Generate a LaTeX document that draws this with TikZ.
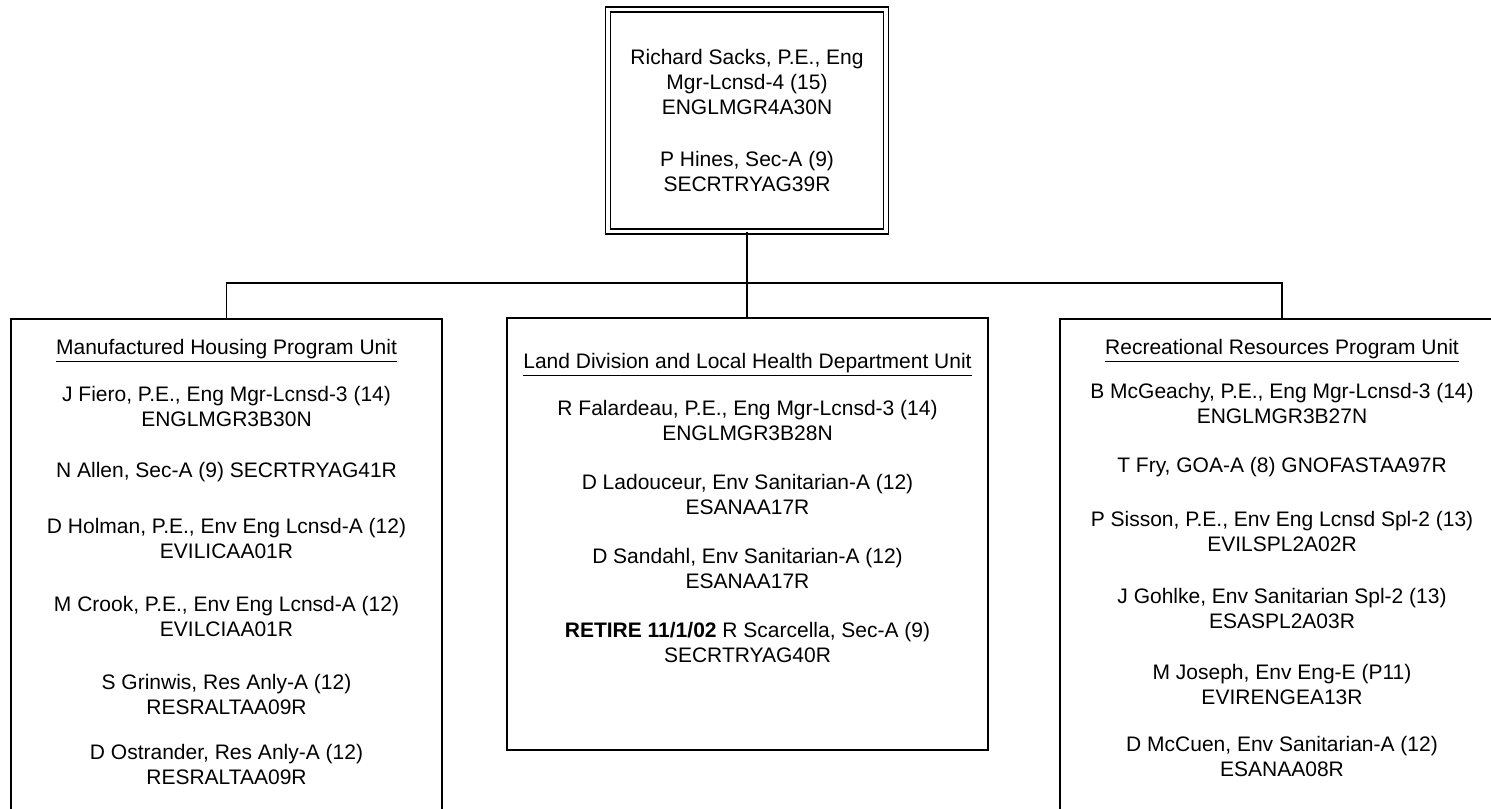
\documentclass[tikz,border=0pt]{standalone}
\usepackage{fontspec}
\setmainfont{Liberation Sans}
\usetikzlibrary{positioning}

\begin{document}
\begin{tikzpicture}[x=0.5pt, y=-0.5pt,
  mgrbox/.style={draw, double, double distance=1.9pt, line width=0.6pt, minimum width=139pt, minimum height=111pt, inner sep=0pt},
  unitbox/.style={draw, line width=0.7pt, inner sep=0pt, outer sep=0pt},
  entry/.style={align=center, inner sep=0pt, font=\fontsize{10.5}{12.5}\selectfont},
  link/.style={line width=0.7pt}
]
\useasboundingbox (0,0) rectangle (1491,808);
\clip (0,0) rectangle (1491,808);

% boxes
\node (top) [mgrbox] at (747,120.5) {};
\node (mh) [unitbox, minimum width=215.5pt, minimum height=260.5pt] at (226.5,579.5) {};
\node (ld) [unitbox, minimum width=240.5pt, minimum height=216pt] at (747.5,534) {};
\node (rr) [unitbox, minimum width=222pt, minimum height=260.5pt] at (1282,579.5) {};

% connectors
\coordinate (bus) at (747,283);
\draw[link] (top.south) -- (top.south |- ld.north);
\draw[link] (mh.north) |- (bus) -| (rr.north);

% manager
\node (sacks) [entry] at (747,81.5) {Richard Sacks, P.E., Eng\\Mgr-Lcnsd-4 (15)\\ENGLMGR4A30N};
\node (hines) [entry] at (747,171.5) {P Hines, Sec-A (9)\\SECRTRYAG39R};

% manufactured housing
\node (mhhead) [entry] at (226.5,351) {\underline{Manufactured Housing Program Unit}};
\node (fiero) [entry] at (226.5,406.5) {J Fiero, P.E., Eng Mgr-Lcnsd-3 (14)\\ENGLMGR3B30N};
\node (allen) [entry] at (226.5,472) {N Allen, Sec-A (9) SECRTRYAG41R};
\node (holman) [entry] at (226.5,538) {D Holman, P.E., Env Eng Lcnsd-A (12)\\EVILICAA01R};
\node (crook) [entry] at (226.5,616.5) {M Crook, P.E., Env Eng Lcnsd-A (12)\\EVILCIAA01R};
\node (grinwis) [entry] at (226.5,694.5) {S Grinwis, Res Anly-A (12)\\RESRALTAA09R};
\node (ostrander) [entry] at (226.5,764.5) {D Ostrander, Res Anly-A (12)\\RESRALTAA09R};

% land division
\node (ldhead) [entry] at (747.5,365) {\underline{Land Division and Local Health Department Unit}};
\node (falardeau) [entry] at (747.5,420.5) {R Falardeau, P.E., Eng Mgr-Lcnsd-3 (14)\\ENGLMGR3B28N};
\node (ladouceur) [entry] at (747.5,494.5) {D Ladouceur, Env Sanitarian-A (12)\\ESANAA17R};
\node (sandahl) [entry] at (747.5,568.5) {D Sandahl, Env Sanitarian-A (12)\\ESANAA17R};
\node (scarcella) [entry] at (747.5,642.5) {\textbf{RETIRE 11/1/02} R Scarcella, Sec-A (9)\\SECRTRYAG40R};

% recreational resources
\node (rrhead) [entry] at (1282,351) {\underline{Recreational Resources Program Unit}};
\node (mcgeachy) [entry] at (1282,403.5) {B McGeachy, P.E., Eng Mgr-Lcnsd-3 (14)\\ENGLMGR3B27N};
\node (fry) [entry] at (1282,467.5) {T Fry, GOA-A (8) GNOFASTAA97R};
\node (sisson) [entry] at (1282,531.5) {P Sisson, P.E., Env Eng Lcnsd Spl-2 (13)\\EVILSPL2A02R};
\node (gohlke) [entry] at (1282,608) {J Gohlke, Env Sanitarian Spl-2 (13)\\ESASPL2A03R};
\node (joseph) [entry] at (1282,684.5) {M Joseph, Env Eng-E (P11)\\EVIRENGEA13R};
\node (mccuen) [entry] at (1282,756.5) {D McCuen, Env Sanitarian-A (12)\\ESANAA08R};
\end{tikzpicture}
\end{document}
